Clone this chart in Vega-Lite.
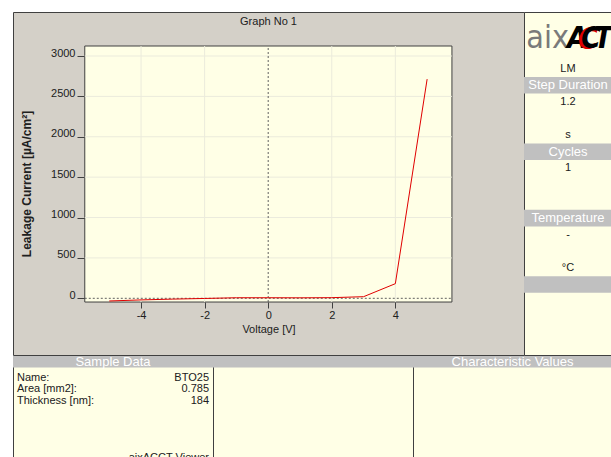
{
  "$schema": "https://vega.github.io/schema/vega-lite/v6.json",
  "background": "#ffffff",
  "padding": {"left": 12, "top": 11, "right": 0, "bottom": 0},
  "config": {"view": {"stroke": null}, "font": "Liberation Sans", "text": {"font": "Liberation Sans"}},
  "spacing": -2,
  "vconcat": [
    {
      "spacing": 0,
      "bounds": "flush",
      "hconcat": [
        {
          "width": 511,
          "height": 343,
          "view": {"fill": "#d4d0c8", "stroke": "#404040"},
          "resolve": {"axis": {"x": "independent", "y": "independent"}},
          "layer": [
            {
              "data": {"values": [{"k": "plot"}]},
              "mark": {"type": "rect", "fill": "#ffffe6", "stroke": "#404040", "strokeWidth": 1},
              "encoding": {
                "x": {"datum": -5.77, "type": "quantitative", "scale": {"domain": [-8.028, 8.047], "nice": false, "zero": false}, "axis": null},
                "x2": {"datum": 5.78},
                "y": {"datum": -46, "type": "quantitative", "scale": {"domain": [-702, 3545], "nice": false, "zero": false}, "axis": null},
                "y2": {"datum": 3124}
              }
            },
            {
              "data": {"values": [{"v": -4}, {"v": -2}, {"v": 2}, {"v": 4}]},
              "mark": {"type": "rule", "color": "#ebebdc", "strokeWidth": 1},
              "encoding": {
                "x": {"field": "v", "type": "quantitative", "scale": {"domain": [-8.028, 8.047], "nice": false, "zero": false}, "axis": null},
                "y": {"datum": -46, "type": "quantitative", "scale": {"domain": [-702, 3545], "nice": false, "zero": false}, "axis": null},
                "y2": {"datum": 3124}
              }
            },
            {
              "data": {"values": [{"j": 500}, {"j": 1000}, {"j": 1500}, {"j": 2000}, {"j": 2500}, {"j": 3000}]},
              "mark": {"type": "rule", "color": "#ebebdc", "strokeWidth": 1},
              "encoding": {
                "y": {"field": "j", "type": "quantitative", "scale": {"domain": [-702, 3545], "nice": false, "zero": false}, "axis": null},
                "x": {"datum": -5.77, "type": "quantitative", "scale": {"domain": [-8.028, 8.047], "nice": false, "zero": false}, "axis": null},
                "x2": {"datum": 5.78}
              }
            },
            {
              "data": {"values": [{"v": 0}]},
              "mark": {"type": "rule", "color": "#606060", "strokeDash": [2, 2], "strokeWidth": 1},
              "encoding": {
                "x": {"field": "v", "type": "quantitative", "scale": {"domain": [-8.028, 8.047], "nice": false, "zero": false}, "axis": null},
                "y": {"datum": -46, "type": "quantitative", "scale": {"domain": [-702, 3545], "nice": false, "zero": false}, "axis": null},
                "y2": {"datum": 3124}
              }
            },
            {
              "data": {"values": [{"j": 0}]},
              "mark": {"type": "rule", "color": "#606060", "strokeDash": [2, 2], "strokeWidth": 1},
              "encoding": {
                "y": {"field": "j", "type": "quantitative", "scale": {"domain": [-702, 3545], "nice": false, "zero": false}, "axis": null},
                "x": {"datum": -5.77, "type": "quantitative", "scale": {"domain": [-8.028, 8.047], "nice": false, "zero": false}, "axis": null},
                "x2": {"datum": 5.78}
              }
            },
            {
              "data": {"values": [{"t": "Graph No 1"}]},
              "mark": {"type": "text", "fontSize": 11, "color": "#202020", "font": "Liberation Sans"},
              "encoding": {
                "y": {"datum": 3421, "type": "quantitative", "scale": {"domain": [-702, 3545], "nice": false, "zero": false}, "axis": null},
                "text": {"field": "t"}
              }
            },
            {
              "data": {"values": [
                {"v": -5, "j": -33}, {"v": -4, "j": -20}, {"v": -3, "j": -10}, {"v": -2, "j": -2},
                {"v": -1, "j": 7}, {"v": 0, "j": 7}, {"v": 1, "j": 6}, {"v": 2, "j": 8},
                {"v": 3, "j": 20}, {"v": 4, "j": 181}, {"v": 5, "j": 2714}
              ]},
              "mark": {"type": "line", "color": "#e00000", "strokeWidth": 1},
              "encoding": {
                "x": {"field": "v", "type": "quantitative", "title": "Voltage [V]", "scale": {"domain": [-8.028, 8.047], "nice": false, "zero": false},
                  "axis": {"values": [-4, -2, 0, 2, 4], "offset": -53, "tickSize": 6, "labelPadding": 1, "titlePadding": 3, "grid": false, "domain": false, "tickColor": "#404040", "labelColor": "#202020", "labelFontSize": 11, "titleFontSize": 11, "titleFontWeight": "normal", "titleColor": "#202020", "labelFont": "Liberation Sans", "titleFont": "Liberation Sans", "labelFlush": false, "labelExpr": "datum.value < 0 ? '-' + toString(-datum.value) : toString(datum.value)"}},
                "y": {"field": "j", "type": "quantitative", "title": "Leakage Current [µA/cm²]", "scale": {"domain": [-702, 3545], "nice": false, "zero": false},
                  "axis": {"values": [0, 500, 1000, 1500, 2000, 2500, 3000], "offset": -72, "tickSize": 8, "labelPadding": 2, "labelBaseline": "alphabetic", "minExtent": 36, "maxExtent": 36, "titlePadding": 16, "titleFontSize": 12, "titleFontWeight": "bold", "titleColor": "#202020", "grid": false, "domain": false, "tickColor": "#404040", "labelColor": "#202020", "labelFontSize": 11, "labelFont": "Liberation Sans", "titleFont": "Liberation Sans", "labelFlush": false, "labelExpr": "toString(datum.value)"}}
              }
            }
          ]
        },
        {
          "width": 88,
          "height": 343,
          "view": {"fill": "#ffffe6", "stroke": "#404040"},
          "data": {"values": [
            {"row": "r3", "text": "LM", "kind": "val"},
            {"row": "r4", "text": "Step Duration", "kind": "head"},
            {"row": "r5", "text": "1.2", "kind": "val"},
            {"row": "r7", "text": "s", "kind": "val"},
            {"row": "r8", "text": "Cycles", "kind": "head"},
            {"row": "r9", "text": "1", "kind": "val"},
            {"row": "r12", "text": "Temperature", "kind": "head"},
            {"row": "r13", "text": "-", "kind": "val"},
            {"row": "r15", "text": "°C", "kind": "val"},
            {"row": "r16", "text": "", "kind": "head"},
            {"row": "r1", "text": "aix", "kind": "logo1"},
            {"row": "r1", "text": "A", "kind": "logoA"},
            {"row": "r1", "text": "C", "kind": "logoC"},
            {"row": "r1", "text": "T", "kind": "logoT"}
          ]},
          "encoding": {
            "y": {"field": "row", "type": "ordinal", "scale": {"type": "band", "domain": ["r0","r1","r2","r3","r4","r5","r6","r7","r8","r9","r10","r11","r12","r13","r14","r15","r16","r17","r18","r19","r20"], "range": [-1.4, 347.2], "paddingInner": 0, "paddingOuter": 0}, "axis": null}
          },
          "layer": [
            {"transform": [{"filter": "datum.kind === 'head'"}], "mark": {"type": "rect", "color": "#c0c0c0"}},
            {"transform": [{"filter": "datum.kind === 'head'"}], "mark": {"type": "text", "color": "#ffffff", "fontSize": 13, "font": "Liberation Sans"}, "encoding": {"text": {"field": "text"}}},
            {"transform": [{"filter": "datum.kind === 'val'"}], "mark": {"type": "text", "color": "#202020", "fontSize": 11, "font": "Liberation Sans"}, "encoding": {"text": {"field": "text"}}},
            {"transform": [{"filter": "datum.kind === 'logo1'"}], "mark": {"type": "text", "color": "#7a7a7a", "fontSize": 32, "font": "DejaVu Sans Condensed, DejaVu Sans", "align": "right", "baseline": "alphabetic", "dy": 12, "dx": 1}, "encoding": {"text": {"field": "text"}}},
            {"transform": [{"filter": "datum.kind === 'logoA'"}], "mark": {"type": "text", "color": "#000000", "fontSize": 30, "font": "DejaVu Sans Condensed, DejaVu Sans", "fontWeight": "bold", "fontStyle": "italic", "align": "left", "baseline": "alphabetic", "dy": 12, "dx": -1}, "encoding": {"text": {"field": "text"}}},
            {"transform": [{"filter": "datum.kind === 'logoC'"}], "mark": {"type": "text", "color": "#e00000", "fontSize": 30, "font": "DejaVu Sans Condensed, DejaVu Sans", "fontWeight": "bold", "fontStyle": "italic", "align": "left", "baseline": "alphabetic", "dy": 13, "dx": 10}, "encoding": {"text": {"field": "text"}}},
            {"transform": [{"filter": "datum.kind === 'logoC'"}], "mark": {"type": "text", "color": "#000000", "fontSize": 30, "font": "DejaVu Sans Condensed, DejaVu Sans", "fontWeight": "bold", "fontStyle": "italic", "align": "left", "baseline": "alphabetic", "dy": 12, "dx": 13}, "encoding": {"text": {"field": "text"}}},
            {"transform": [{"filter": "datum.kind === 'logoT'"}], "mark": {"type": "text", "color": "#000000", "fontSize": 30, "font": "DejaVu Sans Condensed, DejaVu Sans", "fontWeight": "bold", "fontStyle": "italic", "align": "left", "baseline": "alphabetic", "dy": 12, "dx": 26}, "encoding": {"text": {"field": "text"}}}
          ]
        }
      ]
    },
    {
      "spacing": 0,
      "bounds": "flush",
      "hconcat": [
        {
          "width": 200,
          "height": 120,
          "view": {"fill": "#ffffe6", "stroke": "#404040"},
          "layer": [
            {"data": {"values": [{"h": "h", "t": "Sample Data"}]}, "mark": {"type": "rect", "color": "#c0c0c0"},
              "encoding": {"y": {"field": "h", "type": "nominal", "scale": {"type": "band", "range": [0, 11.5], "paddingInner": 0, "paddingOuter": 0}, "axis": null}}},
            {"data": {"values": [{"h": "h", "t": "Sample Data"}]}, "mark": {"type": "text", "color": "#ffffff", "fontSize": 13, "font": "Liberation Sans"},
              "encoding": {"y": {"field": "h", "type": "nominal", "scale": {"type": "band", "range": [0, 11.5], "paddingInner": 0, "paddingOuter": 0}, "axis": null}, "text": {"field": "t"}}},
            {"data": {"values": [
                {"row": "r1", "label": "Name:", "value": "BTO25"},
                {"row": "r2", "label": "Area [mm2]:", "value": "0.785"},
                {"row": "r3", "label": "Thickness [nm]:", "value": "184"},
                {"row": "r8", "label": "", "value": "aixACCT Viewer"}
              ]},
              "mark": {"type": "text", "align": "left", "fontSize": 11, "color": "#202020", "font": "Liberation Sans"},
              "encoding": {
                "y": {"field": "row", "type": "ordinal", "scale": {"type": "band", "domain": ["r1","r2","r3","r4","r5","r6","r7","r8"], "range": [16.29, 107.73], "paddingInner": 0, "paddingOuter": 0}, "axis": null},
                "x": {"datum": "l", "type": "nominal", "scale": {"type": "point", "domain": ["l", "v"], "range": [4, 196], "padding": 0}, "axis": null},
                "text": {"field": "label"}
              }},
            {"data": {"values": [
                {"row": "r1", "label": "Name:", "value": "BTO25"},
                {"row": "r2", "label": "Area [mm2]:", "value": "0.785"},
                {"row": "r3", "label": "Thickness [nm]:", "value": "184"},
                {"row": "r8", "label": "", "value": "aixACCT Viewer"}
              ]},
              "mark": {"type": "text", "align": "right", "fontSize": 11, "color": "#202020", "font": "Liberation Sans"},
              "encoding": {
                "y": {"field": "row", "type": "ordinal", "scale": {"type": "band", "domain": ["r1","r2","r3","r4","r5","r6","r7","r8"], "range": [16.29, 107.73], "paddingInner": 0, "paddingOuter": 0}, "axis": null},
                "x": {"datum": "v", "type": "nominal", "scale": {"type": "point", "domain": ["l", "v"], "range": [4, 196], "padding": 0}, "axis": null},
                "text": {"field": "value"}
              }}
          ],
          "resolve": {"scale": {"y": "independent"}}
        },
        {
          "width": 200,
          "height": 120,
          "view": {"fill": "#ffffe6", "stroke": "#404040"},
          "data": {"values": [{"h": "h"}]},
          "mark": {"type": "rect", "color": "#c0c0c0"},
          "encoding": {"y": {"field": "h", "type": "nominal", "scale": {"type": "band", "range": [0, 11.5], "paddingInner": 0, "paddingOuter": 0}, "axis": null}}
        },
        {
          "width": 199,
          "height": 120,
          "view": {"fill": "#ffffe6", "stroke": "#404040"},
          "data": {"values": [{"h": "h", "t": "Characteristic Values"}]},
          "encoding": {"y": {"field": "h", "type": "nominal", "scale": {"type": "band", "range": [0, 11.5], "paddingInner": 0, "paddingOuter": 0}, "axis": null}},
          "layer": [
            {"mark": {"type": "rect", "color": "#c0c0c0"}},
            {"mark": {"type": "text", "color": "#ffffff", "fontSize": 13, "font": "Liberation Sans"}, "encoding": {"text": {"field": "t"}}}
          ]
        }
      ]
    }
  ]
}
